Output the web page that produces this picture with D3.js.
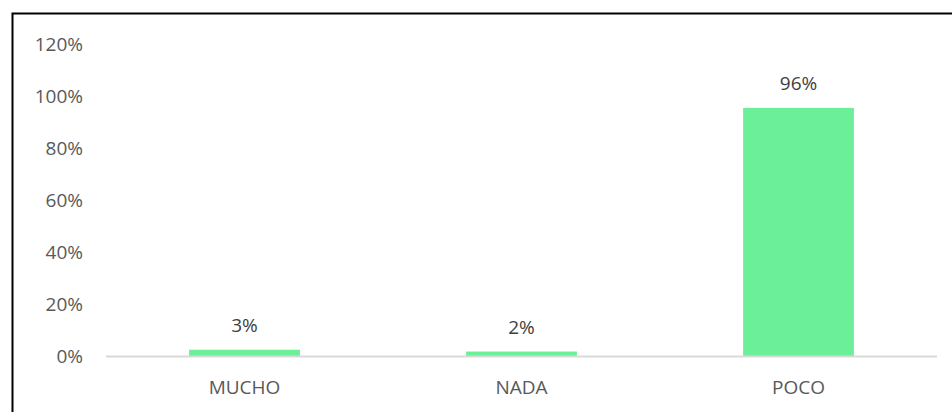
<!DOCTYPE html>
<html><head><meta charset="utf-8">
<script src="https://cdn.jsdelivr.net/npm/d3@7"></script>
<style>body{margin:0;background:#fff}svg{display:block}text{font-family:"Open Sans",sans-serif}</style>
</head><body>
<script>
const categories = ["MUCHO", "NADA", "POCO"];
const values = [0.026, 0.019, 0.956];
const yTicks = [0, 0.2, 0.4, 0.6, 0.8, 1.0, 1.2];

(function () {
const W = 952, H = 412;
const svg = d3.select("body").append("svg").attr("width", W).attr("height", H);

// outer border (top & left visible, extends past right/bottom)
svg.append("rect").attr("x", 12.5).attr("y", 13.5).attr("width", W + 10).attr("height", H + 10)
  .attr("fill", "none").attr("stroke", "#000").attr("stroke-width", 2);

const pl = 106, pr = 937, pt = 44.5, pb = 356.5;
const x = d3.scaleBand().domain(categories).range([pl, pr]).paddingInner(0.6).paddingOuter(0.3);
const y = d3.scaleLinear().domain([0, 1.2]).range([pb, pt]);

const fmt = d3.format(".0%");

// y tick labels
const yAxis = d3.axisLeft(y).tickValues(yTicks).tickFormat(fmt).tickSize(0).tickPadding(0);
const yg = svg.append("g").attr("transform", `translate(83,0)`).call(yAxis);
yg.select(".domain").remove();
yg.selectAll("text").attr("font-size", 19).attr("fill", "#595959").attr("font-family", "'Open Sans',sans-serif");

// bars
svg.selectAll("rect.bar").data(values).enter().append("rect").attr("class", "bar")
  .attr("x", (d, i) => x(categories[i]))
  .attr("width", x.bandwidth())
  .attr("y", d => y(d))
  .attr("height", d => y(0) - y(d))
  .attr("fill", "#6BEF99");

// category labels
const xAxis = d3.axisBottom(x).tickSize(0).tickPadding(24);
const xg = svg.append("g").attr("transform", `translate(0,${pb})`).call(xAxis);
xg.select(".domain").remove();
xg.selectAll("text").attr("font-size", 19).attr("fill", "#595959").attr("font-family", "'Open Sans',sans-serif");

// baseline
svg.append("line").attr("x1", pl).attr("x2", pr).attr("y1", y(0)).attr("y2", y(0))
  .attr("stroke", "#d9d9d9").attr("stroke-width", 2);

// data labels
svg.selectAll("text.lbl").data(values).enter().append("text").attr("class", "lbl")
  .attr("x", (d, i) => x(categories[i]) + x.bandwidth() / 2)
  .attr("y", d => y(d) - 18)
  .attr("text-anchor", "middle")
  .attr("font-size", 19).attr("fill", "#404040")
  .text(d => fmt(d));
})();
</script>
</body></html>
